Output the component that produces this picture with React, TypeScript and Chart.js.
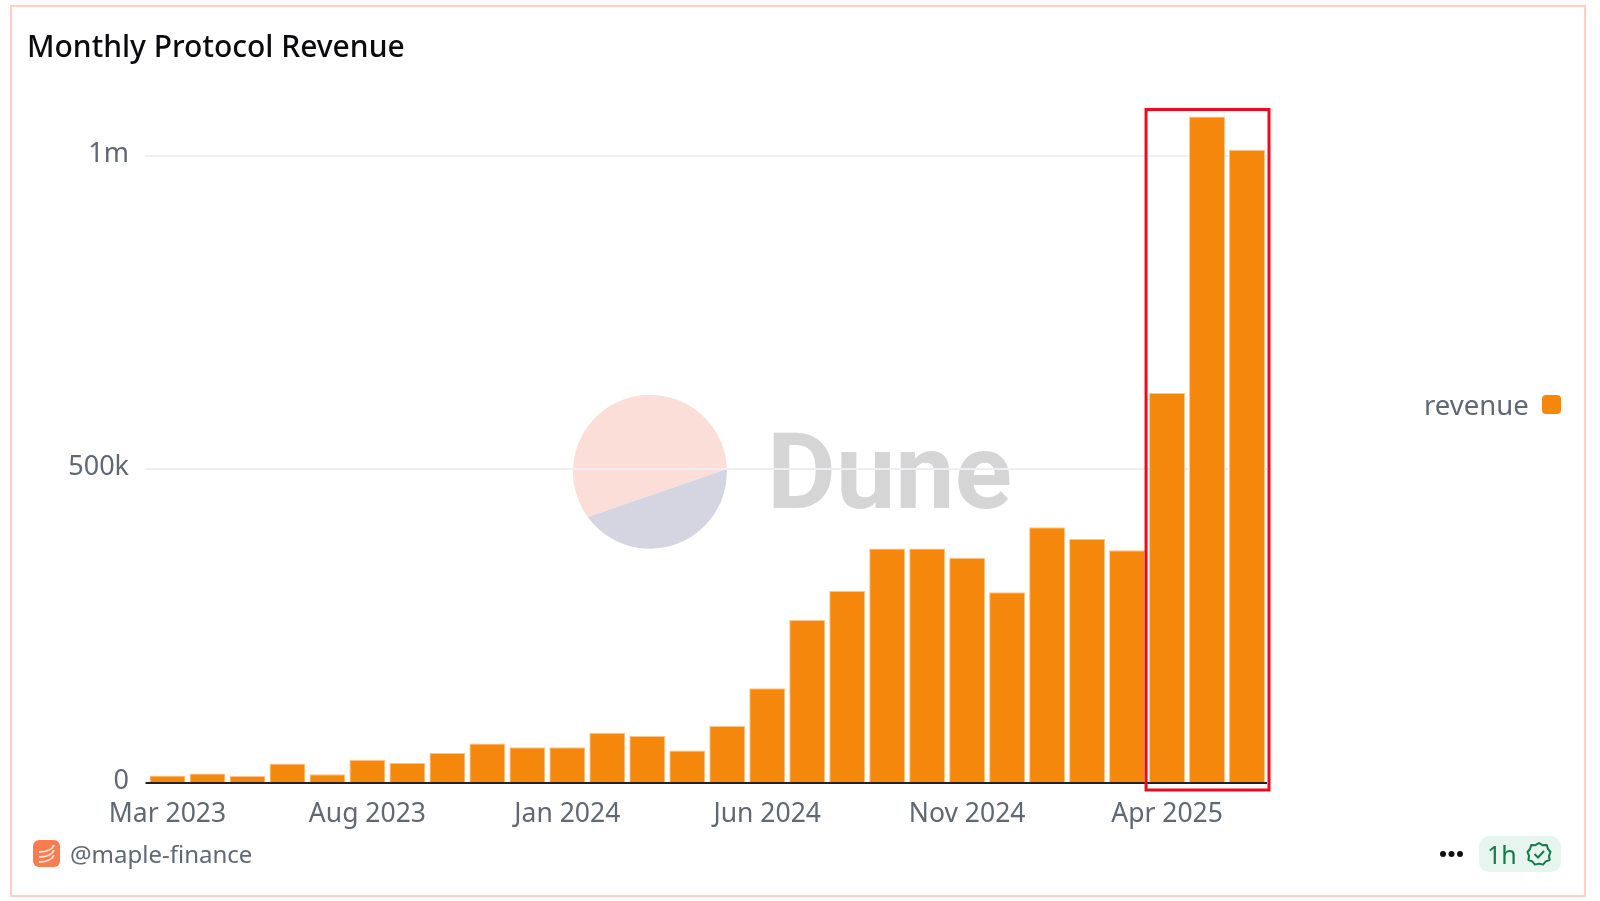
import { useEffect, useRef } from "react"
import { Chart, registerables } from "chart.js"

Chart.register(...registerables)

const months = [
  "Mar 2023", "Apr 2023", "May 2023", "Jun 2023", "Jul 2023", "Aug 2023", "Sep 2023",
  "Oct 2023", "Nov 2023", "Dec 2023", "Jan 2024", "Feb 2024", "Mar 2024", "Apr 2024",
  "May 2024", "Jun 2024", "Jul 2024", "Aug 2024", "Sep 2024", "Oct 2024", "Nov 2024",
  "Dec 2024", "Jan 2025", "Feb 2025", "Mar 2025", "Apr 2025", "May 2025", "Jun 2025",
]
const revenue = [
  12000, 15000, 11000, 31000, 14000, 37000, 32000,
  48000, 63000, 57000, 57000, 80000, 75000, 52000,
  91000, 151000, 260000, 306000, 374000, 374000, 359000,
  304000, 408000, 389000, 371000, 622000, 1063000, 1010000,
]
const yTickValues = [0, 500000, 1000000]
const yTickLabels = ["0", "500k", "1m"]
const highlightMonths = ["Apr 2025", "Jun 2025"]

const FONT = '"Noto Sans", sans-serif'
const ORANGE = "#f5880c"
const MUTED = "#5f6873"

// y tick labels sit a few px above their grid lines, which the scale can't do by itself
const yLabelPlugin = {
  id: "yLabels",
  afterDraw(chart: Chart) {
    const { ctx, scales } = chart
    const y = scales.y
    ctx.save()
    ctx.font = `27px ${FONT}`
    ctx.fillStyle = MUTED
    ctx.textAlign = "right"
    ctx.textBaseline = "middle"
    yTickValues.forEach((v, i) => {
      ctx.fillText(yTickLabels[i], 129, y.getPixelForValue(v) - 2)
    })
    ctx.restore()
  },
}

const highlightPlugin = {
  id: "highlightBox",
  afterDatasetsDraw(chart: Chart) {
    const { ctx, scales } = chart
    const left = scales.x.getPixelForValue(months.indexOf(highlightMonths[0])) - 21
    const right = scales.x.getPixelForValue(months.indexOf(highlightMonths[1])) + 22
    ctx.save()
    ctx.strokeStyle = "#f00820"
    ctx.lineWidth = 3
    ctx.strokeRect(left, scales.y.top - 2.5, right - left, scales.y.bottom - scales.y.top + 9.5)
    ctx.restore()
  },
}

function Watermark() {
  return (
    <>
      <svg width={160} height={160} style={{ position: "absolute", left: 570, top: 392 }}>
        <path d="M 156.9 77 A 77 77 0 1 0 17.7 125 Z" fill="#fcded8" />
        <path d="M 156.9 77 A 77 77 0 0 1 17.7 125 Z" fill="#d5d5e2" />
      </svg>
      <div
        style={{
          position: "absolute",
          left: 767,
          top: 410,
          fontFamily: "Roboto, sans-serif",
          fontWeight: 700,
          fontSize: 106,
          lineHeight: "124px",
          color: "#d5d5d5",
        }}
      >
        Dune
      </div>
    </>
  )
}

export default function App() {
  const canvasRef = useRef<HTMLCanvasElement>(null)

  useEffect(() => {
    if (!canvasRef.current) return
    const chart = new Chart(canvasRef.current, {
      type: "bar",
      data: {
        labels: months,
        datasets: [
          {
            label: "revenue",
            data: revenue,
            backgroundColor: ORANGE,
            borderColor: "#fbc68c",
            borderWidth: 1,
            barPercentage: 0.9,
            categoryPercentage: 1,
          },
        ],
      },
      options: {
        responsive: false,
        animation: false,
        layout: { padding: { top: 112, right: 333 } },
        plugins: { legend: { display: false }, tooltip: { enabled: false } },
        scales: {
          x: {
            grid: { display: false },
            border: { display: false },
            ticks: {
              autoSkip: false,
              maxRotation: 0,
              padding: 8,
              color: MUTED,
              font: { family: FONT, size: 26.5 },
              callback: (_v, i) => (i % 5 === 0 ? months[i] : ""),
            },
            afterFit: (scale) => {
              scale.height = 118
            },
          },
          y: {
            min: 0,
            max: 1070000,
            border: { display: false },
            grid: {
              lineWidth: 2,
              tickLength: 2,
              color: (c) => (c.tick.value === 0 ? "#222222" : "#eeeef3"),
            },
            ticks: { display: false },
            afterBuildTicks: (scale) => {
              scale.ticks = yTickValues.map((value) => ({ value }))
            },
            afterFit: (scale) => {
              scale.width = 147.5
            },
          },
        },
      },
      plugins: [yLabelPlugin, highlightPlugin],
    })
    return () => chart.destroy()
  }, [])

  const text = { position: "absolute", fontFamily: FONT, whiteSpace: "nowrap" } as const

  return (
    <div style={{ position: "absolute", left: 0, top: 0, width: 1600, height: 901, background: "#fff", overflow: "hidden" }}>
      <div
        style={{
          position: "absolute",
          left: 10,
          top: 5,
          width: 1572,
          height: 888,
          border: "2px solid #fcd0c6",
        }}
      />
      <Watermark />
      <canvas ref={canvasRef} width={1600} height={901} style={{ position: "absolute", left: 0, top: 0 }} />

      <div style={{ ...text, left: 27, top: 26, fontSize: 30, lineHeight: "40px", fontWeight: 500, color: "#0b0b0f" }}>
        Monthly Protocol Revenue
      </div>

      <div style={{ ...text, left: 1431, top: 387, fontSize: 27.5, lineHeight: "36px", color: MUTED, transform: "translateX(-7px)" }}>revenue</div>
      <div style={{ position: "absolute", left: 1542, top: 395, width: 19, height: 19, borderRadius: 4, background: ORANGE }} />

      <svg width={28} height={28} style={{ position: "absolute", left: 33, top: 840 }} viewBox="0 0 28 28">
        <rect width={27} height={27} rx={6} fill="#fb7c50" />
        <path d="M6 12 C12 12 19 10 21 5 M6 17 C12 17 19 15 21 10 M6 22 C12 22 19 20 21 15" stroke="#fde0d4" strokeWidth={2} fill="none" />
      </svg>
      <div style={{ ...text, left: 70, top: 836, fontSize: 24, lineHeight: "36px", color: MUTED }}>@maple-finance</div>

      <svg width={26} height={8} style={{ position: "absolute", left: 1439, top: 850 }}>
        <circle cx={4} cy={4} r={3} fill="#111" />
        <circle cx={12.5} cy={4} r={3} fill="#111" />
        <circle cx={21} cy={4} r={3} fill="#111" />
      </svg>
      <div style={{ position: "absolute", left: 1479, top: 836, width: 82, height: 36, borderRadius: 10, background: "#e6f6ef" }} />
      <div style={{ ...text, left: 1487, top: 836, fontSize: 25, lineHeight: "36px", color: "#14784a" }}>1h</div>
      <svg width={26} height={26} viewBox="0 0 26 26" style={{ position: "absolute", left: 1526, top: 841 }}>
        <path
          d="M13 2 L16.5 4.2 L20.8 4 L22 8 L24.5 11 L23 14.8 L23.6 19 L19.8 20.4 L17 23.6 L13 22.6 L9 23.6 L6.2 20.4 L2.4 19 L3 14.8 L1.5 11 L4 8 L5.2 4 L9.5 4.2 Z"
          fill="none"
          stroke="#14784a"
          strokeWidth={2}
          strokeLinejoin="round"
        />
        <path d="M8.5 13 L12 16.5 L18 10" fill="none" stroke="#14784a" strokeWidth={2} />
      </svg>
    </div>
  )
}
